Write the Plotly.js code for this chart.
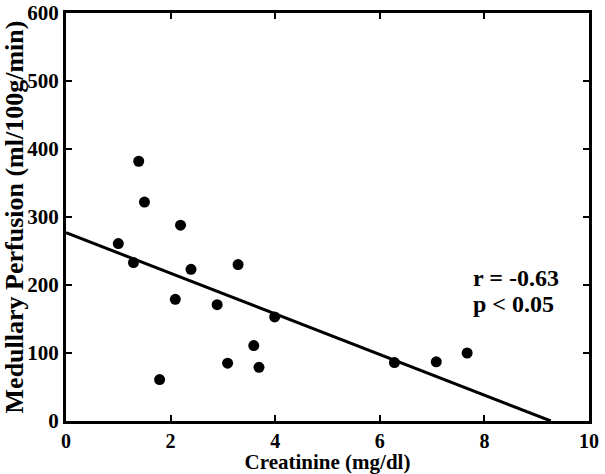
<!DOCTYPE html>
<html>
<head>
<meta charset="utf-8">
<script src="https://cdn.plot.ly/plotly-3.0.1.min.js"></script>
<style>html,body{margin:0;padding:0;background:#fff;}#chart{width:605px;height:474px;}</style>
</head>
<body>
<div id="chart"></div>
<script>
const creatinine = [1.39, 1.50, 2.19, 1.00, 1.29, 2.39, 3.29, 2.09, 2.89, 3.99, 3.59, 3.09, 3.69, 1.79, 6.28, 7.08, 7.67];
const perfusion  = [382, 322, 288, 261, 233, 223, 230, 179, 171, 153, 111, 85, 79, 61, 86, 87, 100];
const fitX = [0, 9.27];
const fitY = [277, 0];
const xTicks = [0, 2, 4, 6, 8, 10];
const yTicks = [0, 100, 200, 300, 400, 500, 600];
const statText = ['r = -0.63', 'p < 0.05'];

const font = 'Liberation Serif, Times New Roman, serif';
const bold = s => '<b>' + s + '</b>';
const traces = [
  {x: creatinine, y: perfusion, mode: 'markers', type: 'scatter',
   marker: {color: '#000', size: 11}, hoverinfo: 'skip'},
  {x: fitX, y: fitY, mode: 'lines', type: 'scatter',
   line: {color: '#000', width: 3}, hoverinfo: 'skip'}
];
const layout = {
  width: 605, height: 474,
  margin: {l: 66, r: 16, t: 13, b: 53},
  showlegend: false,
  paper_bgcolor: '#fff', plot_bgcolor: '#fff',
  font: {family: font, color: '#000', size: 20},
  xaxis: {range: [0, 10], tickvals: xTicks, ticktext: xTicks.map(v => bold(String(v))),
    showgrid: false, zeroline: false, showline: true, linecolor: '#000', linewidth: 3,
    mirror: 'allticks', ticks: 'inside', ticklen: 6, tickwidth: 2, tickcolor: '#000',
    tickfont: {family: font, size: 20},
    title: {text: bold('Creatinine (mg/dl)'), font: {family: font, size: 21}, standoff: 1}},
  yaxis: {range: [0, 600], tickvals: yTicks, ticktext: yTicks.map(v => bold(String(v))),
    showgrid: false, zeroline: false, showline: true, linecolor: '#000', linewidth: 3,
    mirror: 'allticks', ticks: 'inside', ticklen: 6, tickwidth: 2, tickcolor: '#000',
    tickfont: {family: font, size: 21},
    title: {text: bold('Medullary Perfusion (ml/100g/min)'), font: {family: font, size: 26}, standoff: 4}},
  annotations: [
    {x: 7.75, y: 210, xref: 'x', yref: 'y', xanchor: 'left', yanchor: 'middle',
     text: bold(statText[0]), showarrow: false, align: 'left',
     font: {family: font, size: 24, color: '#000'}},
    {x: 7.75, y: 172, xref: 'x', yref: 'y', xanchor: 'left', yanchor: 'middle',
     text: bold(statText[1]), showarrow: false, align: 'left',
     font: {family: font, size: 24, color: '#000'}}
  ]
};
Plotly.newPlot('chart', traces, layout, {displayModeBar: false, staticPlot: true});
</script>
</body>
</html>
